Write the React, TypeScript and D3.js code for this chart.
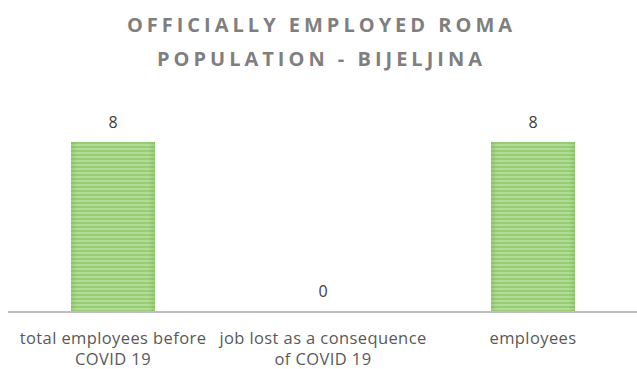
import React from "react";
import * as d3 from "d3";

const categories = ["total employees before COVID 19", "job lost as a consequence of COVID 19", "employees"];
const labelLines = [["total employees before", "COVID 19"], ["job lost as a consequence", "of COVID 19"], ["employees"]];
const values = [8, 0, 8];
const titleLines = ["OFFICIALLY EMPLOYED ROMA", "POPULATION - BIJELJINA"];

const W = 637, H = 369;
const x = d3.scaleBand<string>().domain(categories).range([8, 638]).paddingInner(0.6).paddingOuter(0.3);
const y = d3.scaleLinear().domain([0, 8]).range([311, 142]);

export default function App() {
  const bw = x.bandwidth();
  return (
    <svg width={W} height={H} style={{ position: "absolute", left: 0, top: 0 }}>
      <defs>
        <pattern id="stripes" patternUnits="userSpaceOnUse" width="8" height="4">
          <rect width="8" height="4" fill="#97cd73" />
          <rect width="8" height="2" y="0" fill="#b4dc99" />
        </pattern>
        <linearGradient id="edge" x1="0" x2="1" y1="0" y2="0">
          <stop offset="0" stopColor="#6fb04a" stopOpacity="0.35" />
          <stop offset="0.08" stopColor="#6fb04a" stopOpacity="0" />
          <stop offset="0.92" stopColor="#6fb04a" stopOpacity="0" />
          <stop offset="1" stopColor="#6fb04a" stopOpacity="0.35" />
        </linearGradient>
      </defs>
      <rect width={W} height={H} fill="#fff" />
      {titleLines.map((t, i) => (
        <text key={i} x={W / 2 + 3} y={32 + i * 34} textAnchor="middle" fill="#7f7f7f"
          fontFamily="Open Sans" fontWeight="bold" fontSize={20} letterSpacing={4}>{t}</text>
      ))}
      {categories.map((c, i) => {
        const bx = x(c)!;
        const by = y(values[i]);
        const h = y(0) - by;
        return (
          <g key={c}>
            {h > 0 && <rect x={bx} y={by} width={bw} height={h} fill="url(#stripes)" />}
            {h > 0 && <rect x={bx} y={by} width={bw} height={h} fill="url(#edge)" />}
            <text x={bx + bw / 2} y={by - 14} textAnchor="middle" fill="#404040"
              fontFamily="Open Sans" fontSize={16}>{values[i]}</text>
            {labelLines[i].map((l, j) => (
              <text key={j} x={bx + bw / 2} y={344 + j * 21} textAnchor="middle" fill="#595959"
                fontFamily="Open Sans" fontSize={16.5} letterSpacing={0.4}>{l}</text>
            ))}
          </g>
        );
      })}
      <line x1={8} x2={637} y1={y(0) + 1} y2={y(0) + 1} stroke="#bfbfbf" strokeWidth={2} />
    </svg>
  );
}
